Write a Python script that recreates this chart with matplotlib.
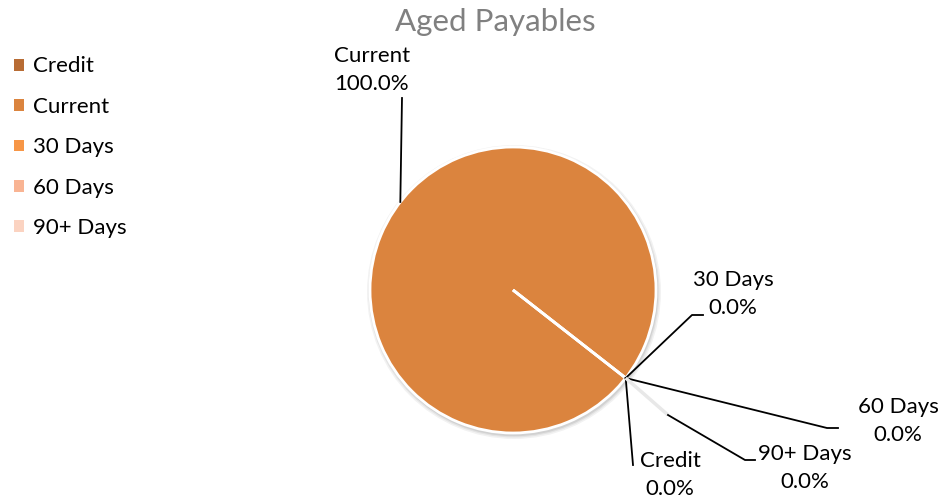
import numpy as np
import matplotlib.pyplot as plt
from matplotlib.patches import Rectangle

categories = ["Credit", "Current", "30 Days", "60 Days", "90+ Days"]
values = [0.0, 100.0, 0.0, 0.0, 0.0]
colors = ["#B86C34", "#DB843E", "#F79646", "#F9B493", "#FBD3C1"]

title = "Aged Payables"

W, H = 939, 499

plt.rcParams["font.family"] = ["Lato", "DejaVu Sans"]

fig = plt.figure(figsize=(W / 100, H / 100), dpi=100)
ax = fig.add_axes([0, 0, 1, 1])


def py(y):
    # pixel row (from top) -> data y
    return H - y


cx, cy, r = 513, py(290), 143
start = -38

# faint shadow under the pie
for k, a in [(4, 0.05), (2.5, 0.06), (1.2, 0.08)]:
    ax.add_patch(plt.Circle((cx + 1, cy - 2), r + k, color="black",
                            alpha=a, lw=0))

wedges, _ = ax.pie(
    values,
    colors=colors,
    startangle=start,
    counterclock=False,
    center=(cx, cy),
    radius=r,
    wedgeprops=dict(edgecolor="white", linewidth=2),
    frame=True,
)
ax.set_xlim(0, W)
ax.set_ylim(0, H)
ax.set_aspect("equal")
ax.axis("off")

total = sum(values)

# label layout: text centre, leader path (pie anchor is prepended)
layout = {
    "Current": dict(text=(372, 70), path=[(402, 98)]),
    "30 Days": dict(text=(733, 294), path=[(692, 315), (703, 315)]),
    "60 Days": dict(text=(898, 421), path=[(827, 428), (838, 428)]),
    "90+ Days": dict(text=(805, 468), path=[(668, 415), (745, 460), (755, 460)]),
    "Credit": dict(text=(670, 475), path=[(633, 465)]),
}

for w, name, v in zip(wedges, categories, values):
    mid = np.deg2rad((w.theta1 + w.theta2) / 2)
    ax_pt = (cx + r * np.cos(mid), cy + r * np.sin(mid))
    lay = layout[name]
    pts = [(x, py(y)) for x, y in lay["path"]]
    if name == "90+ Days":
        # shadow part near the pie
        ax.plot([ax_pt[0], pts[0][0]], [ax_pt[1], pts[0][1]],
                color="#E8E8E8", lw=2.5, solid_capstyle="butt")
    else:
        pts = [ax_pt] + pts
    xs, ys = zip(*pts)
    ax.plot(xs, ys, color="black", lw=1.3)
    tx, ty = lay["text"]
    ax.text(tx, py(ty), f"{name}\n{100 * v / total:.1f}%",
            ha="center", va="center", fontsize=16, linespacing=1.5,
            color="black")

ax.text(495, py(22), title, ha="center", va="center",
        fontsize=22.5, color="#808080")

handles = [Rectangle((0, 0), 1, 1, facecolor=c, edgecolor="none") for c in colors]
ax.legend(
    handles,
    categories,
    loc="upper left",
    bbox_to_anchor=(14 / W, 1 - 56.5 / H),
    frameon=False,
    fontsize=16,
    handlelength=0.45,
    handleheight=0.45,
    handletextpad=0.4,
    labelspacing=0.92,
    borderaxespad=0.0,
    borderpad=0.0,
)

fig.savefig("out.png", dpi=100)
